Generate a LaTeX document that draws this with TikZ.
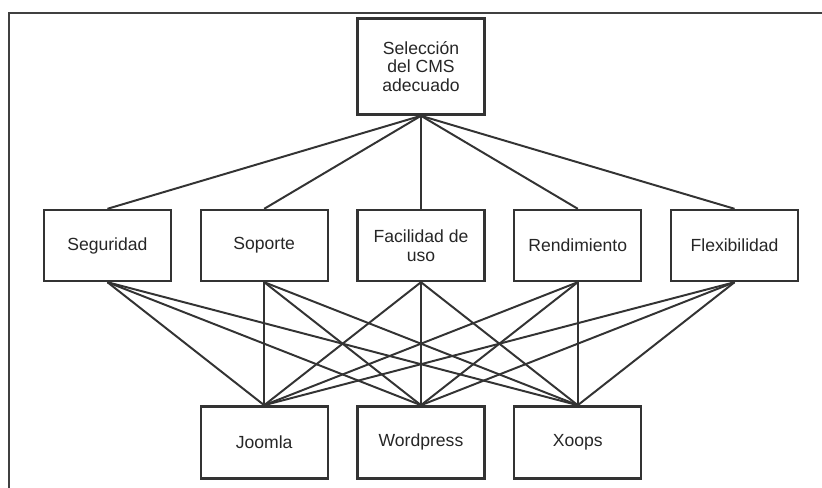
\documentclass[tikz,border=0pt]{standalone}
\usepackage{fontspec}
\setmainfont{Liberation Sans}
\usetikzlibrary{positioning}

\begin{document}
\begin{tikzpicture}[node distance=0.685cm,
		every node/.style={font=\fontsize{12.5}{13.2}\selectfont, text=black!85},
		crit/.style={draw=black!80, line width=1.7pt, align=center, minimum width=3.175cm, minimum height=1.775cm, inner sep=2pt},
		goal/.style={crit, minimum height=2.4cm},
		alt/.style={crit, minimum height=1.8cm},
		link/.style={draw=black!80, line width=1.4pt}]
		\useasboundingbox (-10.525,-6.0375) rectangle (10.025,6.1375);
		
		% Define nodes (criteria, goal and alternatives)
		\node[crit] (F) {Facilidad de\\uso};
		\node[crit] (P) [left=of F] {Soporte};
		\node[crit] (S) [left=of P] {Seguridad};
		\node[crit] (R) [right=of F] {Rendimiento};
		\node[crit] (X) [right=of R] {Flexibilidad};
		
		\node[goal] (CMS) [above=2.325cm of F] {Selección\\del CMS\\adecuado};
		
		\node[alt] (J) [below=3.075cm of P] {Joomla};
		\node[alt] (W) [below=3.075cm of F] {Wordpress};
		\node[alt] (O) [below=3.075cm of R] {Xoops};
		
		% Frame
		\coordinate (fbl) at (-10.3,-6.2);
		\coordinate (ftr) at (10.2,5.8125);
		\draw[black!75, line width=1.6pt] (fbl) |- (ftr);
		
		% Draw connections
		\draw[link] (CMS.south) -- (S.north);
		\draw[link] (CMS.south) -- (P.north);
		\draw[link] (CMS.south) -- (F.north);
		\draw[link] (CMS.south) -- (R.north);
		\draw[link] (CMS.south) -- (X.north);
		
		\draw[link] (S.south) -- (J.north);
		\draw[link] (S.south) -- (W.north);
		\draw[link] (S.south) -- (O.north);
		\draw[link] (P.south) -- (J.north);
		\draw[link] (P.south) -- (W.north);
		\draw[link] (P.south) -- (O.north);
		\draw[link] (F.south) -- (J.north);
		\draw[link] (F.south) -- (W.north);
		\draw[link] (F.south) -- (O.north);
		\draw[link] (R.south) -- (J.north);
		\draw[link] (R.south) -- (W.north);
		\draw[link] (R.south) -- (O.north);
		\draw[link] (X.south) -- (J.north);
		\draw[link] (X.south) -- (W.north);
		\draw[link] (X.south) -- (O.north);
	\end{tikzpicture}
\end{document}
